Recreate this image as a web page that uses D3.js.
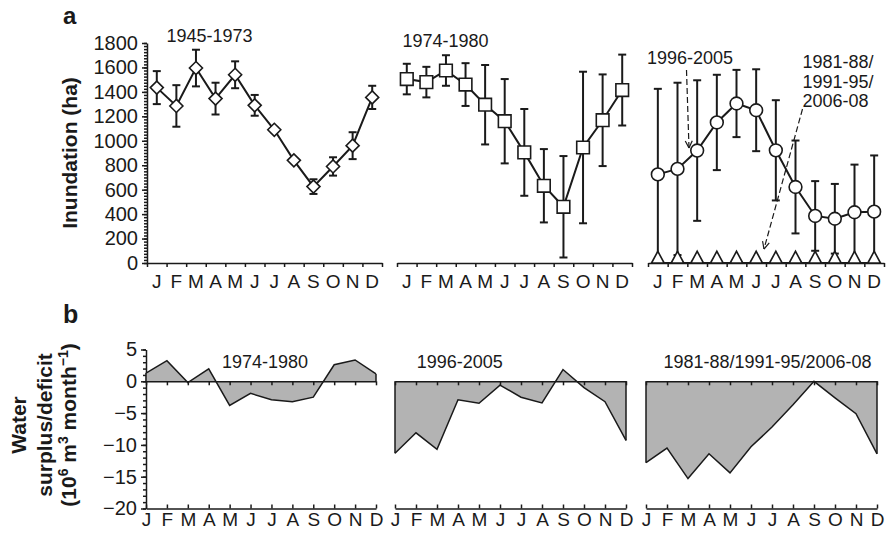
<!DOCTYPE html>
<html>
<head>
<style>
  body { margin: 0; background: #fff; }
  svg text { font-family: "Liberation Sans", Arial, sans-serif; fill: #1a1a1a; }
  .axis path, .axis line { stroke: #1a1a1a; stroke-width: 1.5; }
  .axis text { font-size: 19px; fill: #1a1a1a; }
  .yax text { font-size: 20px; }
  .ttl { font-size: 18px; }
  .lab { font-size: 21px; font-weight: bold; }
</style>
</head>
<body>
<svg id="chart" width="887" height="535"></svg>
<script src="https://d3js.org/d3.v7.min.js"></script>
<script>
// months and their axis labels
const months = ["Jan","Feb","Mar","Apr","May","Jun","Jul","Aug","Sep","Oct","Nov","Dec"];
const monthLabels = ["J","F","M","A","M","J","J","A","S","O","N","D"];

// (a) inundation, ha, mean and error
const inund4573 = [1435, 1285, 1595, 1345, 1540, 1290, 1090, 840, 625, 790, 960, 1355];
const err4573   = [135, 170, 150, 130, 110, 85, 20, 15, 60, 75, 110, 95];
const inund7480 = [1505, 1480, 1575, 1460, 1295, 1160, 905, 632, 460, 945, 1168, 1415];
const err7480   = [125, 125, 125, 175, 325, 345, 355, 300, 415, 620, 375, 290];
const inund9605 = [725, 770, 920, 1150, 1305, 1250, 922, 622, 385, 362, 415, 420];
const err9605   = [700, 705, 575, 390, 275, 335, 410, 380, 285, 285, 390, 460];
const inundDry  = [0, 0, 0, 0, 0, 0, 0, 0, 0, 0, 0, 0];
const topTitles = ["1945-1973", "1974-1980"];

// (b) water surplus/deficit, 10^6 m3 per month
const wb7480 = [1.3, 3.25, -0.2, 1.95, -3.8, -1.9, -2.9, -3.2, -2.5, 2.6, 3.35, 1.15];
const wb9605 = [-11.3, -8.1, -10.7, -2.9, -3.45, -0.6, -2.5, -3.4, 1.85, -1.0, -3.2, -9.3];
const wbDry  = [-12.8, -10.5, -15.3, -11.4, -14.4, -10.3, -7.2, -3.7, 0, -2.6, -5.1, -11.4];
const botTitles = ["1974-1980", "1996-2005", "1981-88/1991-95/2006-08"];

const yTopTicks = d3.range(0, 1801, 200);
const yBotTicks = [5, 0, -5, -10, -15, -20];

const svg = d3.select("#chart");
const ink = "#1a1a1a";

const yTop = d3.scaleLinear().domain([0, 1800]).range([263, 43]);
const yBot = d3.scaleLinear().domain([-20, 5]).range([508.5, 349.5]);

const topX = [[147, 382], [397, 632], [648, 884]];
const botX = [[146, 376], [395, 626], [646, 877]];

// custom marker shapes
const diamond = { draw(c, s) { const r = Math.sqrt(s) / 2; c.moveTo(0, -r); c.lineTo(r, 0); c.lineTo(0, r); c.lineTo(-r, 0); c.closePath(); } };
const triUp = { draw(c, s) { const w = Math.sqrt(s) / 2; c.moveTo(-w, 0); c.lineTo(0, -w * 1.85); c.lineTo(w, 0); c.closePath(); } };

// ---------- panel a ----------
svg.append("g").attr("class", "axis")
  .attr("transform", "translate(147,0)")
  .call(d3.axisLeft(yTop).tickValues(d3.range(0, 1801, 25)).tickSize(3).tickFormat(""))
  .call(g => g.select(".domain").remove());
svg.append("g").attr("class", "axis yax")
  .attr("transform", "translate(147,0)")
  .call(d3.axisLeft(yTop).tickValues(yTopTicks).tickSize(5).tickSizeOuter(0).tickPadding(4)
    .tickFormat(d3.format("d")));

const topSeries = [
  { p: 0, v: inund4573, e: err4573, sym: diamond, size: 170 },
  { p: 1, v: inund7480, e: err7480, sym: d3.symbolSquare, size: 160 },
  { p: 2, v: inund9605, e: err9605, sym: d3.symbolCircle, size: 128 },
  { p: 2, v: inundDry, e: null, sym: triUp, size: 160 }
];

const topBands = topX.map(([a, b]) => d3.scaleBand().domain(months).range([a, b]));

topX.forEach(([a, b], i) => {
  const lin = d3.scaleLinear().domain([0, 12]).range([a, b]);
  svg.append("g").attr("class", "axis")
    .attr("transform", "translate(0,263)")
    .call(d3.axisBottom(lin).ticks(12).tickSize(4).tickSizeOuter(0).tickFormat(""));
  svg.append("g").attr("class", "axis")
    .attr("transform", "translate(0,263)")
    .call(d3.axisBottom(topBands[i]).tickSize(0).tickPadding(12).tickFormat((d, j) => monthLabels[j]))
    .call(g => g.select(".domain").remove());
});

topSeries.forEach(s => {
  const xb = topBands[s.p];
  const cx = m => xb(m) + xb.bandwidth() / 2;
  const g = svg.append("g");
  if (s.e) {
    months.forEach((m, i) => {
      const lo = Math.max(0, s.v[i] - s.e[i]), hi = s.v[i] + s.e[i];
      g.append("line").attr("x1", cx(m)).attr("x2", cx(m))
        .attr("y1", yTop(lo)).attr("y2", yTop(hi))
        .attr("stroke", ink).attr("stroke-width", 2);
      [lo, hi].forEach(v => {
        if (v === 0) return;
        g.append("line").attr("x1", cx(m) - 4).attr("x2", cx(m) + 4)
          .attr("y1", yTop(v)).attr("y2", yTop(v))
          .attr("stroke", ink).attr("stroke-width", 2);
      });
    });
  }
  g.append("path")
    .attr("d", d3.line().x((d, i) => cx(months[i])).y(d => yTop(d))(s.v))
    .attr("fill", "none").attr("stroke", ink).attr("stroke-width", 2);
  g.selectAll("path.mk").data(s.v).join("path").attr("class", "mk")
    .attr("transform", (d, i) => `translate(${cx(months[i])},${yTop(d)})`)
    .attr("d", d3.symbol(s.sym, s.size))
    .attr("fill", "#fff").attr("stroke", ink).attr("stroke-width", 1.6);
});

svg.append("text").attr("class", "ttl").attr("x", 209.5).attr("y", 41.5)
  .attr("text-anchor", "middle").text(topTitles[0]);
svg.append("text").attr("class", "ttl").attr("x", 445.5).attr("y", 46.5)
  .attr("text-anchor", "middle").text(topTitles[1]);
svg.append("text").attr("class", "ttl").attr("x", 690).attr("y", 64)
  .attr("text-anchor", "middle").text(botTitles[1]);
["1981-88/", "1991-95/", "2006-08"].forEach((t, i) => {
  svg.append("text").attr("class", "ttl").attr("x", 802.5).attr("y", 68.3 + i * 19.3).text(t);
});

function arrow(x1, y1, x2, y2) {
  svg.append("line").attr("x1", x1).attr("y1", y1).attr("x2", x2).attr("y2", y2)
    .attr("stroke", ink).attr("stroke-width", 1.2).attr("stroke-dasharray", "6,3");
  const ang = Math.atan2(y2 - y1, x2 - x1);
  [0.45, -0.45].forEach(d => {
    svg.append("line").attr("x1", x2).attr("y1", y2)
      .attr("x2", x2 - 8 * Math.cos(ang + d)).attr("y2", y2 - 8 * Math.sin(ang + d))
      .attr("stroke", ink).attr("stroke-width", 1.2);
  });
}
arrow(686.5, 70, 689, 148);
arrow(802.5, 109, 764, 249);

svg.append("text").attr("x", 63).attr("y", 24)
  .style("font-size", "24px").style("font-weight", "bold").text("a");
svg.append("text").attr("class", "lab")
  .attr("transform", "translate(77,153) rotate(-90)")
  .attr("text-anchor", "middle").text("Inundation (ha)");

// ---------- panel b ----------
svg.append("g").attr("class", "axis")
  .attr("transform", "translate(146,0)")
  .call(d3.axisLeft(yBot).tickValues(d3.range(-20, 6, 1)).tickSize(3).tickFormat(""))
  .call(g => g.select(".domain").remove());
svg.append("g").attr("class", "axis yax")
  .attr("transform", "translate(146,0)")
  .call(d3.axisLeft(yBot).tickValues(yBotTicks).tickSize(5).tickSizeOuter(0).tickPadding(4)
    .tickFormat(d => d < 0 ? "\u2212" + Math.abs(d) : d));

const wbSeries = [wb7480, wb9605, wbDry];
botX.forEach(([a, b], i) => {
  const x = d3.scalePoint().domain(months).range([a, b]);
  const vals = wbSeries[i];
  svg.append("path")
    .attr("d", d3.area().x((d, j) => x(months[j])).y0(yBot(0)).y1(d => yBot(d))(vals))
    .attr("fill", "#b3b3b3").attr("stroke", "none");
  svg.append("path")
    .attr("d", d3.line().x((d, j) => x(months[j])).y(d => yBot(d))(vals))
    .attr("fill", "none").attr("stroke", ink).attr("stroke-width", 1.5);
  [0, 11].forEach(j => {
    svg.append("line").attr("x1", x(months[j])).attr("x2", x(months[j]))
      .attr("y1", yBot(0)).attr("y2", yBot(vals[j]))
      .attr("stroke", ink).attr("stroke-width", 1.5);
  });
  // zero line
  svg.append("g").attr("class", "axis")
    .attr("transform", `translate(0,${yBot(0)})`)
    .call(d3.axisBottom(x).tickSize(4).tickSizeOuter(0).tickFormat(""));
  // bottom axis
  svg.append("g").attr("class", "axis")
    .attr("transform", `translate(0,${yBot(-20)})`)
    .call(d3.axisBottom(x).tickSize(-4).tickSizeOuter(0).tickPadding(4)
      .tickFormat((d, j) => monthLabels[j]));
});

svg.append("text").attr("class", "ttl").attr("x", 265).attr("y", 368.3)
  .attr("text-anchor", "middle").text(botTitles[0]);
svg.append("text").attr("class", "ttl").attr("x", 459.7).attr("y", 368.3)
  .attr("text-anchor", "middle").text(botTitles[1]);
svg.append("text").attr("class", "ttl").attr("x", 767.5).attr("y", 368.3)
  .attr("text-anchor", "middle").text(botTitles[2]);

svg.append("text").attr("x", 63).attr("y", 323)
  .style("font-size", "25px").style("font-weight", "bold").text("b");

const ylab = svg.append("g").attr("transform", "translate(0,425)");
ylab.append("text").attr("class", "lab").attr("transform", "translate(26,0) rotate(-90)")
  .attr("text-anchor", "middle").text("Water");
ylab.append("text").attr("class", "lab").attr("transform", "translate(52,0) rotate(-90)")
  .attr("text-anchor", "middle").text("surplus/deficit");
const l3 = ylab.append("text").attr("class", "lab").attr("transform", "translate(76,0) rotate(-90)")
  .attr("text-anchor", "middle");
l3.append("tspan").text("(10");
l3.append("tspan").attr("dy", -8).style("font-size", "14px").text("6");
l3.append("tspan").attr("dy", 8).text(" m");
l3.append("tspan").attr("dy", -8).style("font-size", "14px").text("3");
l3.append("tspan").attr("dy", 8).text(" month");
l3.append("tspan").attr("dy", -8).style("font-size", "14px").text("\u22121");
l3.append("tspan").attr("dy", 8).text(")");
</script>
</body>
</html>
